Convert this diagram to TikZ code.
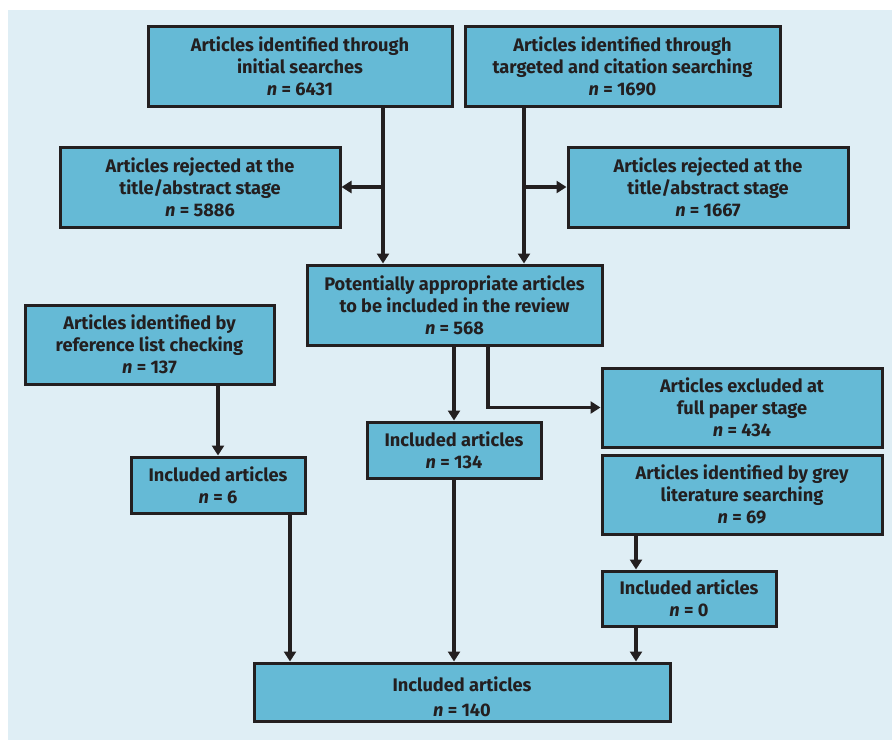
\documentclass[tikz,border=0pt]{standalone}
\usepackage{fontspec}
\setmainfont{Fira Sans}
\usetikzlibrary{arrows.meta,positioning}
\definecolor{boxblue}{HTML}{65BAD6}
\definecolor{panel}{HTML}{DFEEF5}
\definecolor{ink}{HTML}{231F20}

\tikzset{
  stagebox/.style={draw=ink,line width=3pt,fill=boxblue,inner sep=0pt,
    align=center,text=ink,font=\fontsize{18.2}{22}\selectfont\bfseries},
  flow/.style={draw=ink,line width=3.2pt,-{Triangle[length=10pt,width=12pt]}}
}

\begin{document}
\begin{tikzpicture}[x=1pt,y=-1pt]
  \useasboundingbox (0,0) rectangle (892,740);
  \fill[panel] (8,10) rectangle (892,740);
  % top row
  \node[stagebox,minimum width=304pt,minimum height=80pt] (init) at (300,66)
       {Articles identified through\\initial searches\\\textit{n} = 6431};
  \node[stagebox,minimum width=315pt,minimum height=80pt] (target) at (622.5,66)
       {Articles identified through\\targeted and citation searching\\\textit{n} = 1690};
  % rejected at screening
  \node[stagebox,minimum width=280pt,minimum height=80pt] (rejL) at (200,187)
       {Articles rejected at the\\title/abstract stage\\\textit{n} = 5886};
  \node[stagebox,minimum width=280pt,minimum height=80pt] (rejR) at (708,187)
       {Articles rejected at the\\title/abstract stage\\\textit{n} = 1667};
  \node[stagebox,minimum width=295pt,minimum height=80pt] (pot) at (454.5,305)
       {Potentially appropriate articles\\to be included in the review\\\textit{n} = 568};
  % side streams
  \node[stagebox,minimum width=249pt,minimum height=79pt] (refl) at (149.5,344.5)
       {Articles identified by\\reference list checking\\\textit{n} = 137};
  \node[stagebox,minimum width=280pt,minimum height=79pt] (excl) at (742,407.5)
       {Articles excluded at\\full paper stage\\\textit{n} = 434};
  \node[stagebox,minimum width=174pt,minimum height=56pt] (inc134) at (454,450)
       {Included articles\\\textit{n} = 134};
  \node[stagebox,minimum width=174pt,minimum height=56pt] (inc6) at (218,485)
       {Included articles\\\textit{n} = 6};
  \node[stagebox,minimum width=280pt,minimum height=79pt] (grey) at (742,494.5)
       {Articles identified by grey\\literature searching\\\textit{n} = 69};
  \node[stagebox,minimum width=174pt,minimum height=55pt] (inc0) at (689,598.5)
       {Included articles\\\textit{n} = 0};
  \node[stagebox,minimum width=416pt,minimum height=58pt] (final) at (462,692)
       {\rule{0pt}{24pt}Included articles\\[3pt]\textit{n} = 140};

  % junctions
  \coordinate (jL) at (383,187);
  \coordinate (jR) at (524,187);
  \coordinate (jX) at (488,407.5);
  \draw[flow] (init.south -| jL) -- (pot.north -| jL);
  \draw[flow] (jL) -- (rejL.east);
  \draw[flow] (target.south -| jR) -- (pot.north -| jR);
  \draw[flow] (jR) -- (rejR.west);
  \draw[flow] (pot.south -| inc134) -- (inc134.north);
  \draw[flow] (pot.south -| jX) -- (jX) -- (excl.west);
  \draw[flow] (refl.south -| inc6) -- (inc6.north);
  \draw[flow] ([xshift=72pt]inc6.south) -- ([xshift=72pt]inc6.south |- final.north);
  \draw[flow] (inc134.south) -- (inc134.south |- final.north);
  \draw[flow] ([xshift=-53pt]inc0.north |- grey.south) -- ([xshift=-53pt]inc0.north);
  \draw[flow] ([xshift=-53pt]inc0.south) -- ([xshift=-53pt]inc0.south |- final.north);
\end{tikzpicture}
\end{document}
